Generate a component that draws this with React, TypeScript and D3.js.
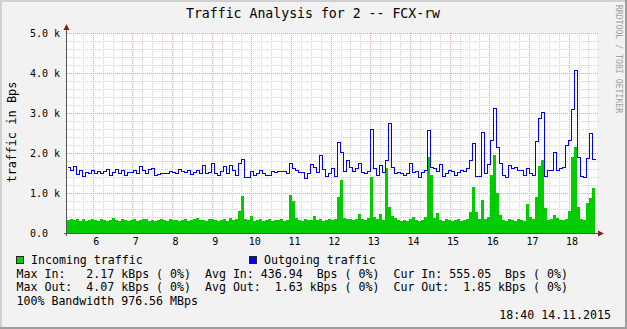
import React from "react";
import * as d3 from "d3";

const titleText = "Traffic Analysis for 2 -- FCX-rw";
const yAxisTitle = "traffic in Bps";
const watermark = "RRDTOOL / TOBI OETIKER";
const yTickValues = [0, 1, 2, 3, 4, 5];
const yTickLabels = ["0.0", "1.0 k", "2.0 k", "3.0 k", "4.0 k", "5.0 k"];
const dayLabels = [6, 7, 8, 9, 10, 11, 12, 13, 14, 15, 16, 17, 18];
const startDay = 5.352;
const endDay = 18.716;
const sampleHours = 1.8155;

// kBps, one sample per interval
const incoming = [
  0.32, 0.36, 0.33, 0.35, 0.31, 0.34, 0.30, 0.33, 0.36, 0.32,
  0.31, 0.34, 0.33, 0.30, 0.32, 0.37, 0.33, 0.31, 0.34, 0.32,
  0.30, 0.33, 0.35, 0.31, 0.32, 0.34, 0.36, 0.31, 0.33, 0.30,
  0.32, 0.35, 0.33, 0.31, 0.34, 0.32, 0.33, 0.30, 0.32, 0.34,
  0.31, 0.33, 0.36, 0.38, 0.32, 0.33, 0.31, 0.34, 0.36, 0.32,
  0.30, 0.33, 0.35, 0.31, 0.37, 0.33, 0.34, 0.55, 0.93, 0.35,
  0.33, 0.42, 0.31, 0.33, 0.34, 0.30, 0.32, 0.35, 0.31, 0.33,
  0.32, 0.34, 0.30, 0.33, 0.95, 0.80, 0.38, 0.33, 0.31, 0.34,
  0.32, 0.33, 0.43, 0.32, 0.34, 0.31, 0.33, 0.36, 0.32, 0.34,
  0.90, 1.33, 0.38, 0.34, 0.36, 0.33, 0.35, 0.48, 0.36, 0.33,
  0.38, 1.40, 0.40, 0.35, 0.48, 0.32, 1.62, 0.66, 0.42, 0.38,
  0.32, 0.30, 0.33, 0.31, 0.35, 0.40, 0.32, 0.31, 0.33, 0.40,
  1.90, 1.45, 0.38, 0.50, 0.33, 0.31, 0.34, 0.32, 0.30, 0.33,
  0.35, 0.31, 0.33, 0.34, 0.52, 1.15, 0.52, 0.35, 0.82, 0.35,
  0.40, 1.45, 1.95, 1.00, 0.45, 0.33, 0.31, 0.35, 0.32, 0.30,
  0.34, 0.33, 0.31, 0.72, 0.40, 0.35, 0.90, 1.67, 1.83, 0.62,
  0.33, 0.35, 0.45, 0.38, 0.33, 0.32, 0.36, 0.55, 1.90, 2.15,
  0.65, 0.36, 0.33, 0.75, 0.87, 1.12,
];

const outgoing = [
  1.66, 1.58, 1.68, 1.48, 1.58, 1.43, 1.53, 1.49, 1.58, 1.50,
  1.56, 1.49, 1.55, 1.59, 1.46, 1.53, 1.59, 1.50, 1.57, 1.46,
  1.52, 1.53, 1.58, 1.49, 1.68, 1.57, 1.50, 1.61, 1.62, 1.45,
  1.47, 1.49, 1.49, 1.49, 1.55, 1.53, 1.51, 1.59, 1.55, 1.53,
  1.58, 1.47, 1.53, 1.58, 1.49, 1.70, 1.49, 1.53, 1.76, 1.49,
  1.44, 1.56, 1.67, 1.49, 1.70, 1.57, 1.44, 1.74, 1.84, 1.41,
  1.39, 1.55, 1.45, 1.51, 1.57, 1.51, 1.44, 1.44, 1.56, 1.52,
  1.55, 1.55, 1.55, 1.50, 1.75, 1.62, 1.58, 1.53, 1.52, 1.37,
  1.50, 1.72, 1.66, 1.53, 1.95, 1.60, 1.42, 1.50, 1.62, 1.42,
  2.28, 2.03, 1.55, 1.83, 1.66, 1.55, 1.62, 1.74, 1.53, 1.50,
  1.54, 2.60, 1.62, 1.45, 1.70, 1.53, 1.83, 2.75, 1.66, 1.50,
  1.53, 1.49, 1.45, 1.49, 1.74, 1.53, 1.56, 1.41, 1.53, 1.58,
  2.58, 1.66, 1.62, 1.55, 1.72, 1.42, 1.49, 1.57, 1.55, 1.45,
  1.53, 1.58, 1.55, 1.62, 1.83, 2.26, 1.42, 1.42, 2.53, 1.50,
  1.72, 2.33, 3.12, 2.15, 1.75, 1.45, 1.40, 1.70, 1.62, 1.66,
  1.58, 1.58, 1.45, 1.62, 1.50, 1.45, 2.30, 2.87, 3.03, 1.42,
  1.58, 1.58, 2.03, 1.58, 1.62, 1.66, 2.20, 2.33, 3.10, 4.07,
  1.90, 1.42, 1.40, 1.87, 2.50, 1.85,
];

const legendNames = ["Incoming traffic", "Outgoing traffic"];
const legendColors = ["#00cc00", "#0000ff"];
const statLines = [
  "Max In:   2.17 kBps ( 0%)  Avg In: 436.94  Bps ( 0%)  Cur In: 555.05  Bps ( 0%)",
  "Max Out:  4.07 kBps ( 0%)  Avg Out:  1.63 kBps ( 0%)  Cur Out:  1.85 kBps ( 0%)",
  "100% Bandwidth 976.56 MBps",
];
const timestamp = "18:40 14.11.2015";

const W = 627;
const H = 329;
const L = 67;
const R = 597;
const T = 33;
const B = 233;
const MONO = "'DejaVu Sans Mono', monospace";

export default function App() {
  const x = d3.scaleLinear().domain([startDay, endDay]).range([L, R]);
  const y = d3.scaleLinear().domain([0, 5]).range([B, T]);
  const step = sampleHours / 24;

  const mk = (arr: number[]) => {
    const pts = arr.map((v, i) => ({ t: startDay + i * step, v }));
    pts.push({ t: startDay + arr.length * step, v: arr[arr.length - 1] });
    return pts;
  };
  const inPts = mk(incoming);
  const outPts = mk(outgoing);

  const area = d3
    .area<{ t: number; v: number }>()
    .x((d) => Math.round(x(d.t)))
    .y0(B)
    .y1((d) => Math.round(y(d.v)))
    .curve(d3.curveStepAfter);
  const line = d3
    .line<{ t: number; v: number }>()
    .x((d) => Math.round(x(d.t)) + 0.5)
    .y((d) => Math.round(y(d.v)) + 0.5)
    .curve(d3.curveStepAfter);

  const minorX: number[] = [];
  for (let q = Math.ceil(startDay * 4); q / 4 <= endDay; q++) {
    if (q % 4 !== 0) minorX.push(q / 4);
  }
  const majorX = d3.range(Math.ceil(startDay), Math.floor(endDay) + 1);
  const minorY = d3.range(0, 26).map((k) => k * 0.2).filter((v, k) => k % 5 !== 0);

  const px = (v: number) => Math.round(v) + 0.5;

  return (
    <svg
      width={W}
      height={H}
      style={{ position: "absolute", left: 0, top: 0, display: "block" }}
      xmlns="http://www.w3.org/2000/svg"
    >
      <rect x={0} y={0} width={W} height={H} fill="#f2f2f2" />
      {/* frame */}
      <rect x={0} y={0} width={W} height={2} fill="#d0d0d0" />
      <rect x={0} y={0} width={2} height={H} fill="#d0d0d0" />
      <rect x={0} y={H - 2} width={W} height={2} fill="#9e9e9e" />
      <rect x={W - 2} y={0} width={2} height={H} fill="#9e9e9e" />

      <rect x={L} y={T} width={R - L} height={B - T} fill="#ffffff" />

      {/* grid */}
      <g shapeRendering="crispEdges" strokeWidth={1} strokeDasharray="1,1">
        {minorY.map((v) => (
          <line key={"my" + v} x1={L} x2={R + 1} y1={px(y(v))} y2={px(y(v))} stroke="#d4d4d4" />
        ))}
        {minorX.map((d) => (
          <line key={"mx" + d} x1={px(x(d))} x2={px(x(d))} y1={T} y2={B} stroke="#d4d4d4" />
        ))}
        {yTickValues.slice(1).map((v) => (
          <line key={"My" + v} x1={L} x2={R + 1} y1={px(y(v))} y2={px(y(v))} stroke="#e2a4a4" />
        ))}
        {majorX.map((d) => (
          <line key={"Mx" + d} x1={px(x(d))} x2={px(x(d))} y1={T} y2={B} stroke="#e2a4a4" />
        ))}
      </g>

      {/* data */}
      <path d={area(inPts) || ""} fill="#00cc00" shapeRendering="crispEdges" />
      <path d={line(outPts) || ""} fill="none" stroke="#0000ff" strokeWidth={1} shapeRendering="crispEdges" />

      {/* axes */}
      <g shapeRendering="crispEdges">
        <line x1={L - 0.5} x2={L - 0.5} y1={29} y2={B + 3} stroke="#555" />
        <line x1={L - 3} x2={R + 2} y1={B + 0.5} y2={B + 0.5} stroke="#555" />
      </g>
      <path d={`M${L - 3.5},${30} L${L - 0.5},${24} L${L + 2.5},${30} Z`} fill="#8a1c1c" />
      <path d={`M${R + 1},${B - 2.5} L${R + 7},${B + 0.5} L${R + 1},${B + 3.5} Z`} fill="#8a1c1c" />

      {/* y tick labels */}
      {yTickValues.map((v, i) => (
        <text
          key={"yl" + v}
          x={30}
          y={y(v) + 3.7}
          fontFamily={MONO}
          fontSize={10}
          fill="#000"
          style={{ whiteSpace: "pre" }}
        >
          {yTickLabels[i]}
        </text>
      ))}
      {/* x tick labels */}
      {dayLabels.map((d) => (
        <text
          key={"xl" + d}
          x={x(d) + 3.5}
          y={244.5}
          textAnchor="middle"
          fontFamily={MONO}
          fontSize={10}
          fill="#000"
        >
          {d}
        </text>
      ))}

      {/* title */}
      <text x={313} y={18} textAnchor="middle" fontFamily={MONO} fontSize={13.2} fill="#000">
        {titleText}
      </text>
      <text
        transform="translate(15.5,132) rotate(-90)"
        textAnchor="middle"
        fontFamily={MONO}
        fontSize={12}
        fill="#000"
      >
        {yAxisTitle}
      </text>
      <text
        transform="translate(616,59) rotate(90)"
        textAnchor="middle"
        fontFamily={MONO}
        fontSize={8.2}
        fill="#a0a0a0"
      >
        {watermark}
      </text>

      {/* legend */}
      {legendNames.map((n, i) => (
        <g key={n}>
          <rect
            x={(i === 0 ? 16 : 249) + 0.5}
            y={256.5}
            width={7}
            height={7}
            fill={legendColors[i]}
            stroke="#222"
            strokeWidth={1}
            shapeRendering="crispEdges"
          />
          <text x={i === 0 ? 31 : 264} y={264} fontFamily={MONO} fontSize={11.6} fill="#000">
            {n}
          </text>
        </g>
      ))}
      {statLines.map((s, i) => (
        <text
          key={"s" + i}
          x={16.5}
          y={277.5 + i * 13.8}
          fontFamily={MONO}
          fontSize={11.6}
          fill="#000"
          style={{ whiteSpace: "pre" }}
        >
          {s}
        </text>
      ))}
      <text x={611} y={319} textAnchor="end" fontFamily={MONO} fontSize={11.6} fill="#000">
        {timestamp}
      </text>
    </svg>
  );
}
